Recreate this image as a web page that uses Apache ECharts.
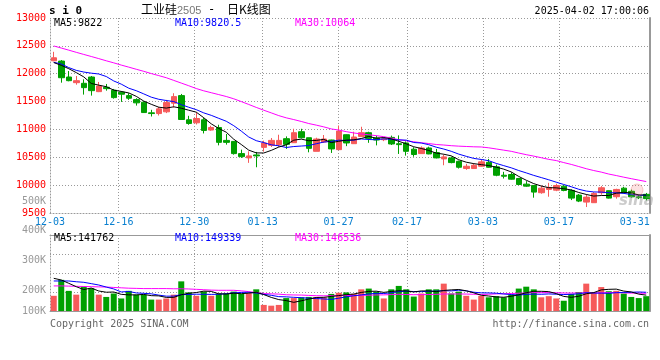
<!DOCTYPE html>
<html><head><meta charset="utf-8">
<script src="https://cdn.jsdelivr.net/npm/echarts@6/dist/echarts.min.js"></script>
<style>html,body{margin:0;padding:0;background:#fff}#c{width:660px;height:360px}</style>
</head><body><div id="c"></div>
<script>
const categories = [
 '12-03','12-04','12-05','12-06','12-09','12-10','12-11','12-12','12-13','12-16','12-17','12-18','12-19','12-20','12-23','12-24','12-25','12-26','12-27','12-30','12-31',
 '01-02','01-03','01-06','01-07','01-08','01-09','01-10','01-13','01-14','01-15','01-16','01-17','01-20','01-21','01-22','01-23','01-24','01-27',
 '02-05','02-06','02-07','02-10','02-11','02-12','02-13','02-14','02-17','02-18','02-19','02-20','02-21','02-24','02-25','02-26','02-27','02-28',
 '03-03','03-04','03-05','03-06','03-07','03-10','03-11','03-12','03-13','03-14','03-17','03-18','03-19','03-20','03-21','03-24','03-25','03-26','03-27','03-28','03-31',
 '04-01','04-02'];
const xTickLabels = ['12-03','12-16','12-30','01-13','01-27','02-17','03-03','03-17','03-31'];
const priceTicks = {min: 9500, max: 13000, step: 500};
const volTickLabels = ['500K','400K','300K','200K','100K'];

const opens = [12232,12227,11941,11839,11828,11941,11678,11757,11703,11668,
 11607,11535,11489,11298,11285,11316,11471,11607,11173,11119,
 11173,10989,11035,10803,10785,10566,10489,10542,10678,10714,
 10727,10834,10762,10959,10851,10607,10775,10810,10637,10905,
 10744,10875,10941,10846,10815,10857,10744,10757,10645,10566,
 10667,10584,10471,10489,10428,10298,10298,10339,10410,10328,
 10178,10191,10119,10018,9994,9864,9923,9910,9982,9905,
 9821,9696,9685,9864,9900,9792,9946,9890,9790,9835];
const closes = [12286,11928,11875,11875,11750,11696,11780,11732,11571,11632,
 11560,11477,11303,11285,11369,11482,11589,11178,11107,11196,
 10982,11035,10768,10768,10566,10512,10525,10525,10757,10803,
 10803,10732,10941,10851,10660,10828,10828,10650,10971,10757,
 10864,10941,10839,10810,10830,10739,10727,10607,10550,10667,
 10560,10489,10507,10405,10321,10339,10357,10418,10321,10178,
 10160,10107,10012,9982,9875,9946,9959,9994,9905,9767,
 9714,9785,9851,9953,9767,9923,9864,9790,9775,9758];
const lows = [12225,11839,11864,11803,11625,11607,11670,11696,11553,11494,
 11530,11428,11303,11232,11250,11293,11393,11170,11084,11089,
 10928,10977,10714,10727,10548,10489,10400,10321,10601,10685,
 10685,10650,10757,10839,10589,10607,10757,10578,10630,10700,
 10740,10870,10760,10714,10790,10720,10560,10530,10510,10560,
 10555,10480,10357,10392,10298,10275,10295,10330,10315,10160,
 10119,10100,10000,9971,9775,9846,9792,9892,9890,9732,
 9696,9607,9680,9828,9760,9757,9850,9775,9750,9725];
const highs = [12393,12245,12048,11959,11900,11959,11852,11816,11727,11686,
 11650,11560,11500,11352,11405,11530,11650,11637,11244,11310,
 11209,11066,11084,10918,10790,10637,10607,10596,10798,10846,
 10905,10875,11012,11012,10851,10851,10900,10815,11071,10910,
 10959,11048,10959,10889,10860,10889,10893,10785,10680,10696,
 10690,10650,10548,10512,10440,10382,10392,10464,10471,10369,
 10239,10230,10130,10071,10000,9994,10042,10025,10000,9925,
 9840,9833,9875,9982,9905,9935,9971,9920,9830,9860];

const ma5 = [12200,12150,12090,12020,11943,11825,11795,11767,11706,11682,
 11655,11594,11509,11451,11399,11383,11406,11381,11345,11310,
 11210,11100,11018,10950,10824,10730,10628,10579,10577,10624,
 10683,10724,10807,10826,10797,10802,10822,10763,10787,10807,
 10814,10837,10874,10842,10855,10830,10787,10741,10689,10658,
 10622,10575,10555,10526,10456,10412,10386,10368,10351,10323,
 10287,10237,10156,10088,10027,9984,9955,9951,9936,9914,
 9868,9833,9804,9814,9814,9856,9872,9859,9824,9822];
const ma10 = [12205,12175,12110,12060,12030,12010,11995,11950,11870,11813,
 11740,11695,11638,11579,11541,11519,11500,11445,11398,11355,
 11297,11253,11199,11147,11067,10970,10864,10798,10763,10724,
 10706,10676,10693,10702,10711,10743,10773,10785,10807,10802,
 10808,10829,10819,10815,10831,10822,10812,10808,10765,10756,
 10726,10681,10648,10607,10557,10517,10480,10461,10438,10390,
 10350,10311,10262,10220,10175,10136,10096,10053,10012,9971,
 9926,9894,9878,9875,9864,9862,9852,9832,9819,9820.5];
const ma30 = [12498,12461,12423,12384,12346,12309,12271,12232,12195,12155,
 12118,12080,12043,12003,11966,11928,11880,11832,11784,11734,
 11693,11659,11625,11591,11550,11500,11448,11395,11345,11297,
 11248,11208,11177,11143,11106,11077,11046,11009,10989,10960,
 10937,10919,10904,10888,10870,10845,10816,10797,10779,10761,
 10747,10729,10720,10708,10700,10694,10688,10685,10670,10649,
 10628,10607,10576,10547,10521,10492,10463,10441,10405,10372,
 10334,10295,10262,10234,10199,10172,10143,10116,10090,10064];

const volumesK = [140,182,153,143,164,160,143,137,146,133,
 153,143,143,130,130,133,143,178,149,140,
 151,140,146,146,151,145,147,157,116,114,
 116,134,134,136,137,137,136,145,148,149,
 145,157,159,151,133,157,166,157,138,146,
 157,157,172,146,151,140,130,140,136,139,
 136,143,159,164,157,136,139,133,127,145,
 150,172,148,163,152,153,146,137,134,139];
const volMa5K = [186,181.6,172.9,164,156.4,160.4,152.6,149.4,150,143.8,
 142.4,142.4,143.6,140.4,139.8,135.8,135.8,142.8,146.6,148.6,
 152.2,151.6,145.2,144.6,146.8,145.6,147,149.2,143.2,135.8,
 130,127.4,122.8,126.8,131.4,135.6,136,138.2,140.6,143,
 144.6,148.8,151.6,152.2,149,151.4,153.2,152.8,150.2,152.8,
 152.8,151,154,155.6,156.6,153.2,147.8,141.4,139.4,137,
 136.2,138.8,142.6,148.2,151.8,151.8,151,145.8,138.4,136,
 138.8,145.4,148.4,155.6,157,157.6,152.4,150.2,144.4,141.762];
const volMa10K = [179,179,179,177,175.5,172,168.4,163,158,150.1,
 151.4,147.5,146.5,145.2,141.8,139.1,139.1,143.2,143.5,144.2,
 144,143.7,144,145.6,147.7,148.9,149.3,147.2,143.9,141.3,
 137.8,137.2,136,135,133.6,132.8,131.7,130.5,133.7,137.2,
 140.1,142.4,144.9,146.4,146,148,151,152.2,151.2,150.9,
 152.1,152.1,153.4,152.9,154.7,153,149.4,147.7,147.5,146.8,
 144.7,143.3,142,143.8,144.4,144,144.9,144.2,143.3,143.9,
 145.3,148.2,147.1,147,146.5,148.2,148.9,149.3,150,149.339];
const volMa30K = [166,166,165.5,165,164.5,164,163.5,163,162,161,
 160,159.5,159,159,159,159,158.5,158.5,158,157,
 156,155,154.5,154.5,154.5,153,151,148.5,146,145.2,
 144.4,142.8,142.2,141.9,141,140.3,140,140.3,140.4,140.9,
 140.6,141.1,141.6,142.3,142.4,143.2,144,143.3,142.9,143.1,
 143.3,143.9,144.8,144.8,144.8,144.6,144,143.5,144.1,145,
 145.6,145.9,146.8,147.7,148.4,148.3,148.4,148,147.3,147.2,
 147.4,147.9,147.5,147.9,148.5,148.4,147.7,147.1,146.9,146.536];

const MONO = 'DejaVu Sans Mono';
const UP = '#f65a5a', DOWN = '#00a000';
const C5 = '#000000', C10 = '#0000ff', C30 = '#ff00ff';
const DOT = [1, 2];
const GRIDC = '#999';
const last = a => a[a.length - 1];

const candleData = categories.map((_, i) => [opens[i], closes[i], lows[i], highs[i]]);
const volData = volumesK.map((v, i) => ({ value: v, itemStyle: { color: closes[i] >= opens[i] ? UP : DOWN } }));
const labelIdx = xTickLabels.map(t => categories.indexOf(t));
const vlineIdx = labelIdx.slice(1, labelIdx.length - 1);

function txt(text, x, y, opt) {
  opt = opt || {};
  return { type: 'text', silent: true, z: 100,
    style: Object.assign({ text, x, y, fill: '#000', font: '10px "' + MONO + '"',
      align: 'left', verticalAlign: 'middle', textAlign: 'left', textVerticalAlign: 'middle' }, opt) };
}
const volLabelY = [201, 230, 260, 290.5, 311.5];

const graphics = [
  txt('s i 0', 49, 11, { font: 'bold 11px "' + MONO + '"' }),
  txt('工业硅', 141, 9.5, { font: '12px "Noto Sans CJK SC"' }),
  txt('2505', 177, 10.5, { font: '11px "Liberation Sans"', fill: '#777' }),
  txt('-', 208, 9.5, { font: '12px "' + MONO + '"' }),
  txt('日K线图', 227, 9.5, { font: '12px "Noto Sans CJK SC"' }),
  txt('2025-04-02 17:00:06', 649, 11.5, { align: 'right', textAlign: 'right' }),
  txt('MA5:' + last(ma5), 54, 23.5, { fill: C5 }),
  txt('MA10:' + last(ma10), 175, 23.5, { fill: C10 }),
  txt('MA30:' + last(ma30), 295, 23.5, { fill: C30 }),
  txt('MA5:' + Math.round(last(volMa5K) * 1000), 54, 238.5, { fill: C5 }),
  txt('MA10:' + Math.round(last(volMa10K) * 1000), 175, 238.5, { fill: C10 }),
  txt('MA30:' + Math.round(last(volMa30K) * 1000), 295, 238.5, { fill: C30 }),
  txt('Copyright 2025 SINA.COM', 50, 324, { fill: '#666' }),
  txt('http://finance.sina.com.cn', 649, 324, { fill: '#666', align: 'right', textAlign: 'right' }),
  txt('sina', 619, 201, { font: 'italic bold 15px "DejaVu Sans"', fill: 'rgba(140,140,140,0.45)' }),
  { type: 'circle', silent: true, z: 99, shape: { cx: 637, cy: 190, r: 6 },
    style: { fill: 'rgba(240,90,90,0.18)', stroke: 'rgba(240,90,90,0.3)', lineWidth: 1 } }
].concat(volTickLabels.map((t, i) => txt(t, 46, volLabelY[i], { fill: '#999', align: 'right', textAlign: 'right' })));

const chart = echarts.init(document.getElementById('c'), null, { renderer: 'canvas' });
chart.setOption({
  animation: false,
  backgroundColor: '#fff',
  grid: [
    { left: 50, top: 18, width: 600, height: 195 },
    { left: 50, top: 235, width: 600, height: 76 }
  ],
  xAxis: [
    { gridIndex: 0, type: 'category', data: categories, boundaryGap: true, show: false },
    { gridIndex: 0, type: 'category', data: categories, boundaryGap: false, position: 'bottom',
      axisLine: { show: true, lineStyle: { color: GRIDC, type: DOT } },
      axisTick: { show: false, customValues: vlineIdx },
      axisLabel: { customValues: labelIdx, color: '#0a80d0', fontFamily: MONO, fontSize: 10, margin: 4 },
      splitLine: { show: true, lineStyle: { color: GRIDC, type: DOT } } },
    { gridIndex: 1, type: 'category', data: categories, boundaryGap: true, position: 'top',
      axisLine: { show: true, lineStyle: { color: GRIDC } }, axisTick: { show: false },
      axisLabel: { show: false }, splitLine: { show: false } },
    { gridIndex: 1, type: 'category', data: categories, boundaryGap: false, position: 'bottom',
      axisLine: { show: true, lineStyle: { color: GRIDC } },
      axisTick: { show: false, customValues: vlineIdx },
      axisLabel: { show: false, customValues: labelIdx },
      splitLine: { show: true, lineStyle: { color: GRIDC, type: DOT } } }
  ],
  yAxis: [
    { gridIndex: 0, type: 'value', min: priceTicks.min, max: priceTicks.max, interval: priceTicks.step, position: 'left',
      axisLine: { show: true, lineStyle: { color: GRIDC, type: DOT } }, axisTick: { show: false },
      axisLabel: { color: '#ff0000', fontFamily: MONO, fontSize: 10, margin: 4, formatter: v => String(v) },
      splitLine: { show: true, lineStyle: { color: GRIDC, type: DOT } } },
    { gridIndex: 0, type: 'value', min: priceTicks.min, max: priceTicks.max, position: 'right',
      axisLine: { show: true, lineStyle: { color: GRIDC, width: 2 } }, axisTick: { show: false },
      axisLabel: { show: false }, splitLine: { show: false } },
    { gridIndex: 1, type: 'value', min: 100, max: 300, interval: 50, position: 'left',
      axisLine: { show: true, lineStyle: { color: GRIDC, type: DOT } }, axisTick: { show: false },
      axisLabel: { show: false },
      splitLine: { show: true, lineStyle: { color: GRIDC, type: DOT } } },
    { gridIndex: 1, type: 'value', min: 100, max: 300, position: 'right',
      axisLine: { show: true, lineStyle: { color: GRIDC, width: 2 } }, axisTick: { show: false },
      axisLabel: { show: false }, splitLine: { show: false } }
  ],
  series: [
    { type: 'candlestick', xAxisIndex: 0, yAxisIndex: 0, data: candleData, barWidth: 6,
      itemStyle: { color: UP, color0: DOWN, borderColor: UP, borderColor0: DOWN, borderWidth: 1 } },
    { type: 'line', xAxisIndex: 0, yAxisIndex: 0, data: ma30, symbol: 'none', lineStyle: { color: C30, width: 1 } },
    { type: 'line', xAxisIndex: 0, yAxisIndex: 0, data: ma10, symbol: 'none', lineStyle: { color: C10, width: 1 } },
    { type: 'line', xAxisIndex: 0, yAxisIndex: 0, data: ma5, symbol: 'none', lineStyle: { color: C5, width: 1 } },
    { type: 'bar', xAxisIndex: 2, yAxisIndex: 2, data: volData, barWidth: 6, clip: true },
    { type: 'line', xAxisIndex: 2, yAxisIndex: 2, data: volMa30K, symbol: 'none', lineStyle: { color: C30, width: 1 } },
    { type: 'line', xAxisIndex: 2, yAxisIndex: 2, data: volMa10K, symbol: 'none', lineStyle: { color: C10, width: 1 } },
    { type: 'line', xAxisIndex: 2, yAxisIndex: 2, data: volMa5K, symbol: 'none', lineStyle: { color: C5, width: 1 } }
  ],
  graphic: graphics
});
</script>
</body></html>
